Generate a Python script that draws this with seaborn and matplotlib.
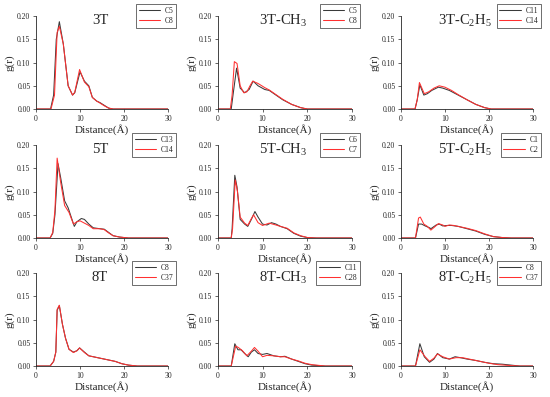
import numpy as np
import pandas as pd
import matplotlib
matplotlib.use("Agg")
import matplotlib.pyplot as plt
import seaborn as sns

# panel titles and series labels
titles = ["3T", r"3T-CH$_3$", r"3T-C$_2$H$_5$",
          "5T", r"5T-CH$_3$", r"5T-C$_2$H$_5$",
          "8T", r"8T-CH$_3$", r"8T-C$_2$H$_5$"]
labels_black = ["C5", "C5", "C11", "C13", "C6", "C1", "C8", "C11", "C8"]
labels_red = ["C8", "C8", "C14", "C14", "C7", "C2", "C37", "C28", "C37"]

x_ticks = [0, 10, 20, 30]
y_ticks = [0.00, 0.05, 0.10, 0.15, 0.20]

# 3T
r_3t_a = [0, 3.3, 4.0, 4.6, 5.3, 6.2, 7.3, 8.3, 8.8, 10.0, 11.0, 12.0, 12.8, 13.8, 14.5, 15.5, 16.5, 17.5, 30]
g_3t_a = [0, 0, 0.03, 0.15, 0.188, 0.14, 0.05, 0.03, 0.035, 0.08, 0.06, 0.05, 0.025, 0.017, 0.014, 0.008, 0.002, 0, 0]
r_3t_b = [0, 3.4, 4.2, 4.8, 5.3, 6.2, 7.3, 8.3, 8.8, 9.9, 11.0, 12.0, 12.8, 13.8, 14.5, 15.5, 16.5, 17.5, 30]
g_3t_b = [0, 0, 0.03, 0.165, 0.178, 0.14, 0.05, 0.03, 0.036, 0.085, 0.058, 0.048, 0.025, 0.017, 0.013, 0.007, 0.002, 0, 0]

# 3T-CH3
r_3tm_a = [0, 3.0, 3.4, 4.2, 5.0, 6.0, 7.0, 7.9, 9.0, 10.5, 11.5, 13.0, 14.5, 16.5, 18.5, 20.0, 30]
g_3tm_a = [0, 0, 0.03, 0.088, 0.045, 0.035, 0.042, 0.06, 0.05, 0.042, 0.04, 0.03, 0.02, 0.01, 0.003, 0, 0]
r_3tm_b = [0, 2.8, 3.2, 3.7, 4.3, 5.0, 5.8, 6.5, 7.2, 7.8, 9.0, 10.5, 11.5, 13.0, 14.5, 16.5, 18.5, 20.0, 30]
g_3tm_b = [0, 0, 0.03, 0.102, 0.098, 0.05, 0.035, 0.037, 0.05, 0.06, 0.055, 0.046, 0.041, 0.031, 0.021, 0.01, 0.003, 0, 0]

# 3T-C2H5
r_3te_a = [0, 3.2, 3.7, 4.3, 5.2, 6.0, 7.0, 8.5, 9.5, 11.0, 13.0, 15.0, 17.0, 19.0, 20.5, 30]
g_3te_a = [0, 0, 0.02, 0.052, 0.03, 0.033, 0.04, 0.047, 0.045, 0.04, 0.03, 0.02, 0.01, 0.003, 0, 0]
r_3te_b = [0, 3.2, 3.7, 4.2, 5.3, 6.3, 7.5, 8.7, 10.0, 11.5, 13.0, 15.0, 17.0, 19.0, 20.5, 30]
g_3te_b = [0, 0, 0.02, 0.057, 0.033, 0.037, 0.045, 0.05, 0.047, 0.04, 0.031, 0.02, 0.01, 0.003, 0, 0]

# 5T
r_5t_a = [0, 3.2, 3.8, 4.3, 5.0, 5.6, 6.5, 7.3, 8.0, 8.7, 9.3, 10.3, 11.0, 12.0, 13.0, 14.5, 15.5, 16.5, 17.5, 19.0, 21.0, 30]
g_5t_a = [0, 0, 0.01, 0.05, 0.16, 0.13, 0.08, 0.065, 0.045, 0.025, 0.035, 0.042, 0.04, 0.03, 0.022, 0.02, 0.019, 0.012, 0.005, 0.002, 0, 0]
r_5t_b = [0, 3.2, 3.8, 4.3, 4.8, 5.6, 6.5, 7.5, 8.5, 9.3, 10.0, 11.0, 12.0, 13.0, 14.5, 15.5, 16.5, 17.5, 19.0, 21.0, 30]
g_5t_b = [0, 0, 0.012, 0.06, 0.172, 0.12, 0.07, 0.055, 0.03, 0.035, 0.037, 0.032, 0.027, 0.02, 0.02, 0.018, 0.011, 0.005, 0.002, 0, 0]

# 5T-CH3
r_5tm_a = [0, 3.0, 3.2, 3.8, 4.3, 5.0, 6.0, 6.7, 7.5, 8.3, 9.0, 10.0, 11.0, 12.0, 13.0, 14.0, 15.5, 17.0, 18.5, 20.0, 22.0, 30]
g_5tm_a = [0, 0, 0.02, 0.135, 0.11, 0.04, 0.03, 0.025, 0.04, 0.057, 0.045, 0.03, 0.028, 0.033, 0.03, 0.025, 0.02, 0.01, 0.004, 0.001, 0, 0]
r_5tm_b = [0, 3.0, 3.3, 3.9, 4.4, 5.0, 6.0, 6.7, 7.4, 8.0, 9.0, 10.0, 11.5, 13.0, 14.0, 15.5, 17.0, 18.5, 20.0, 22.0, 30]
g_5tm_b = [0, 0, 0.02, 0.125, 0.1, 0.045, 0.032, 0.027, 0.04, 0.05, 0.033, 0.027, 0.032, 0.028, 0.025, 0.021, 0.011, 0.005, 0.001, 0, 0]

# 5T-C2H5
r_5te_a = [0, 3.3, 4.0, 4.7, 5.5, 6.5, 6.8, 8.0, 8.7, 9.5, 10.5, 11.5, 13.0, 15.0, 17.0, 19.0, 21.0, 23.0, 25.0, 30]
g_5te_a = [0, 0, 0.03, 0.03, 0.026, 0.022, 0.02, 0.028, 0.03, 0.026, 0.027, 0.027, 0.025, 0.02, 0.015, 0.008, 0.003, 0.001, 0, 0]
r_5te_b = [0, 3.3, 4.0, 4.4, 5.2, 6.0, 6.8, 7.8, 8.5, 9.5, 10.0, 11.0, 12.0, 13.0, 15.0, 17.0, 19.0, 21.0, 23.0, 25.0, 30]
g_5te_b = [0, 0, 0.043, 0.045, 0.03, 0.025, 0.017, 0.025, 0.031, 0.028, 0.025, 0.028, 0.027, 0.025, 0.021, 0.016, 0.009, 0.003, 0.001, 0, 0]

# 8T
r_8t_a = [0, 3.2, 4.0, 4.5, 4.8, 5.3, 6.0, 6.7, 7.5, 8.5, 9.3, 9.9, 11.0, 12.0, 13.5, 15.0, 16.5, 18.0, 19.5, 21.0, 23.0, 30]
g_8t_a = [0, 0, 0.01, 0.03, 0.12, 0.13, 0.09, 0.06, 0.036, 0.03, 0.033, 0.039, 0.03, 0.022, 0.019, 0.016, 0.013, 0.01, 0.005, 0.002, 0, 0]
r_8t_b = [0, 3.2, 4.0, 4.5, 4.8, 5.3, 6.0, 6.7, 7.5, 8.5, 9.3, 9.9, 11.0, 12.0, 13.5, 15.0, 16.5, 18.0, 19.5, 21.0, 23.0, 30]
g_8t_b = [0, 0, 0.01, 0.03, 0.122, 0.131, 0.09, 0.06, 0.036, 0.029, 0.033, 0.039, 0.029, 0.022, 0.019, 0.016, 0.013, 0.01, 0.005, 0.002, 0, 0]

# 8T-CH3
r_8tm_a = [0, 3.0, 3.8, 4.5, 5.2, 6.0, 6.8, 7.5, 8.2, 9.0, 10.0, 11.0, 12.5, 14.0, 15.0, 16.5, 18.0, 19.5, 21.0, 24.0, 30]
g_8tm_a = [0, 0, 0.048, 0.035, 0.035, 0.027, 0.02, 0.03, 0.035, 0.027, 0.025, 0.027, 0.022, 0.02, 0.021, 0.015, 0.01, 0.005, 0.002, 0, 0]
r_8tm_b = [0, 3.0, 4.0, 4.6, 5.5, 6.5, 7.5, 8.2, 9.0, 10.0, 11.0, 12.5, 14.0, 15.0, 16.5, 18.0, 19.5, 21.0, 24.0, 30]
g_8tm_b = [0, 0, 0.043, 0.04, 0.033, 0.022, 0.032, 0.04, 0.032, 0.02, 0.023, 0.022, 0.02, 0.02, 0.015, 0.011, 0.006, 0.003, 0, 0]

# 8T-C2H5
r_8te_a = [0, 3.3, 4.3, 5.3, 6.5, 7.5, 8.3, 9.5, 11.0, 12.3, 13.5, 15.0, 17.0, 19.0, 21.0, 23.0, 25.0, 27.0, 30]
g_8te_a = [0, 0, 0.048, 0.02, 0.008, 0.015, 0.027, 0.018, 0.015, 0.02, 0.018, 0.015, 0.012, 0.008, 0.005, 0.004, 0.002, 0, 0]
r_8te_b = [0, 3.3, 4.3, 5.5, 6.5, 7.5, 8.3, 9.5, 11.0, 12.5, 14.0, 16.0, 18.0, 20.0, 22.0, 25.0, 27.0, 30]
g_8te_b = [0, 0, 0.035, 0.02, 0.01, 0.017, 0.026, 0.02, 0.015, 0.018, 0.018, 0.014, 0.01, 0.006, 0.003, 0.001, 0, 0]

series = [
    (r_3t_a, g_3t_a, r_3t_b, g_3t_b),
    (r_3tm_a, g_3tm_a, r_3tm_b, g_3tm_b),
    (r_3te_a, g_3te_a, r_3te_b, g_3te_b),
    (r_5t_a, g_5t_a, r_5t_b, g_5t_b),
    (r_5tm_a, g_5tm_a, r_5tm_b, g_5tm_b),
    (r_5te_a, g_5te_a, r_5te_b, g_5te_b),
    (r_8t_a, g_8t_a, r_8t_b, g_8t_b),
    (r_8tm_a, g_8tm_a, r_8tm_b, g_8tm_b),
    (r_8te_a, g_8te_a, r_8te_b, g_8te_b),
]

sns.set_style("ticks")
plt.rcParams["font.family"] = ["Liberation Serif", "DejaVu Serif"]
plt.rcParams["mathtext.fontset"] = "custom"
plt.rcParams["mathtext.rm"] = "Liberation Serif"
plt.rcParams["mathtext.it"] = "Liberation Serif:italic"
plt.rcParams["axes.linewidth"] = 0.6

fig = plt.figure(figsize=(5.5, 3.97), dpi=100)

lefts = [0.0655, 0.396, 0.729]
bottoms = [0.7254, 0.4005, 0.078]
widths = [0.24, 0.244, 0.24]
height = 0.234

for i, (ra, ga, rb, gb) in enumerate(series):
    row, col = divmod(i, 3)
    ax = fig.add_axes([lefts[col], bottoms[row], widths[col], height])
    df = pd.concat([
        pd.DataFrame({"r": ra, "g": ga, "atom": labels_black[i] + " "}),
        pd.DataFrame({"r": rb, "g": gb, "atom": labels_red[i]}),
    ], ignore_index=True)
    sns.lineplot(data=df, x="r", y="g", hue="atom",
                 palette=["#3a3a3a", "#ff3030"], linewidth=0.75,
                 sort=False, estimator=None, ax=ax)
    ax.set_xlim(0, 30)
    ax.set_ylim(0, 0.20)
    ax.set_xticks(x_ticks)
    ax.set_yticks(y_ticks)
    ax.set_yticklabels([f"{v:.2f}" for v in y_ticks])
    ax.tick_params(labelsize=5.5, length=2.5, width=0.5, pad=1.5, direction="out")
    ax.set_xlabel("Distance(Å)", fontsize=8, labelpad=1)
    ax.set_ylabel("g(r)", fontsize=8, labelpad=2)
    for side in ["top", "right"]:
        ax.spines[side].set_visible(False)
    ax.text(0.485, 0.95, titles[i], transform=ax.transAxes,
            ha="center", va="center", fontsize=10.5)
    handles, labs = ax.get_legend_handles_labels()
    leg = ax.legend(handles, [l.strip() for l in labs], loc="upper right",
                    bbox_to_anchor=(1.06, 1.13), fontsize=5.5,
                    frameon=True, fancybox=False, handlelength=2.8,
                    borderpad=0.35, labelspacing=0.3, handletextpad=0.6,
                    borderaxespad=0)
    leg.get_frame().set_edgecolor("black")
    leg.get_frame().set_linewidth(0.5)
    leg.set_clip_on(False)

fig.savefig("out.png", dpi=100)
